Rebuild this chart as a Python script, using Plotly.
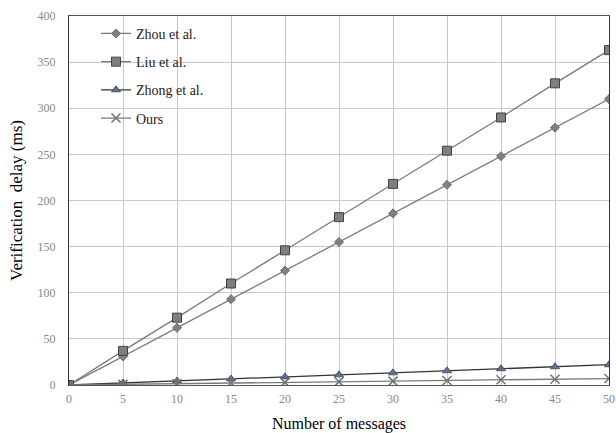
import plotly.graph_objects as go

messages = [0, 5, 10, 15, 20, 25, 30, 35, 40, 45, 50]
zhou = [0, 31, 62, 93, 124, 155, 186, 217, 248, 279, 310]
liu = [0, 37, 73, 110, 146, 182, 218, 254, 290, 327, 363]
zhong = [0, 2.2, 4.4, 6.6, 8.8, 11, 13.2, 15.4, 17.6, 19.8, 22]
ours = [0, 0.7, 1.4, 2.1, 2.8, 3.5, 4.2, 4.9, 5.6, 6.3, 7]

fig = go.Figure()
fig.add_trace(go.Scatter(x=messages, y=zhou, name="Zhou et al.", mode="lines+markers",
                         legendgroup="a",
                         line=dict(color="#7a7a7a", width=1.3),
                         marker=dict(symbol="diamond", size=7, color="#808080",
                                     line=dict(color="#606060", width=0.8))))
fig.add_trace(go.Scatter(x=messages, y=liu, name="Liu et al.", mode="lines+markers",
                         legendgroup="b",
                         line=dict(color="#7a7a7a", width=1.3),
                         marker=dict(symbol="square", size=9, color="#7f7f7f",
                                     line=dict(color="#404040", width=1))))
fig.add_trace(go.Scatter(x=messages, y=zhong, name="Zhong et al.", mode="lines+markers",
                         legendgroup="c",
                         line=dict(color="#333333", width=1.3),
                         marker=dict(symbol="triangle-up", size=8, color="#5a7190",
                                     line=dict(color="#404a58", width=0.8))))
fig.add_trace(go.Scatter(x=messages, y=ours, name="Ours", mode="lines+markers",
                         legendgroup="d",
                         line=dict(color="#7a7a7a", width=1.3),
                         marker=dict(symbol="x-thin", size=9, color="#707070",
                                     line=dict(color="#707070", width=1.5))))

fig.update_layout(
    width=616, height=433,
    margin=dict(l=69, r=7, t=16, b=48),
    paper_bgcolor="white", plot_bgcolor="white",
    font=dict(family="Liberation Serif", color="black"),
    showlegend=True,
    legend=dict(x=0.05, y=0.995, xanchor="left", yanchor="top",
                bgcolor="rgba(255,255,255,0)", font=dict(size=14, color="#222"),
                tracegroupgap=7, traceorder="grouped"),
    xaxis=dict(range=[0, 50], tickvals=messages, ticks="", showgrid=True,
               gridcolor="#c8c8c8", gridwidth=1, zeroline=False,
               showline=True, linecolor="#555", mirror=True, automargin=False,
               tickfont=dict(size=12, color="#888"), ticklabelstandoff=3,
               title=dict(text="Number of messages", font=dict(size=16, color="black"),
                          standoff=14)),
    yaxis=dict(range=[0, 400], dtick=50, ticks="", showgrid=True,
               gridcolor="#c8c8c8", gridwidth=1, zeroline=False,
               showline=True, linecolor="#333", mirror=True, automargin=False,
               tickfont=dict(size=12, color="#888"), ticklabelstandoff=10,
               title=dict(text="Verification  delay (ms)", font=dict(size=17, color="black"),
                          standoff=10)),
)

fig.write_html("out.html", config={"displayModeBar": False},
               post_script="document.body.style.margin='0px';")
